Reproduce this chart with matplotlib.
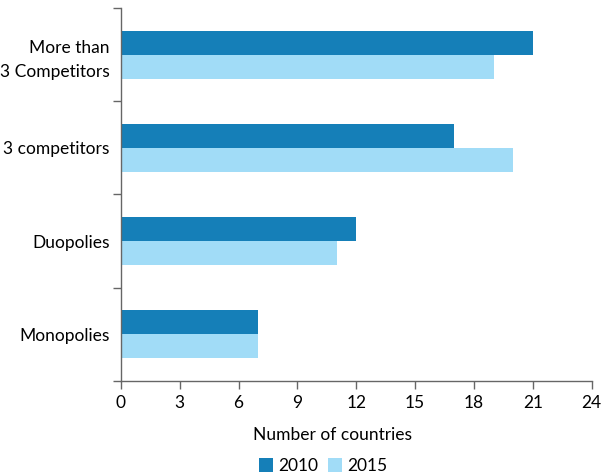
import matplotlib.pyplot as plt
import numpy as np

categories = ["More than\n3 Competitors", "3 competitors", "Duopolies", "Monopolies"]
values_2010 = [21, 17, 12, 7]
values_2015 = [19, 20, 11, 7]
x_ticks = [0, 3, 6, 9, 12, 15, 18, 21, 24]


def main():
    plt.rcParams['font.family'] = ['Lato', 'DejaVu Sans']
    fig = plt.figure(figsize=(6.1, 4.76), dpi=100)
    ax = fig.add_axes([0.198, 0.2, 0.772, 0.783])

    y = np.arange(len(categories))
    h = 0.258
    ax.barh(y - h / 2, values_2010, height=h, color='#157fb8', label='2010')
    ax.barh(y + h / 2, values_2015, height=h, color='#a1dcf7', label='2015')

    ax.set_xlim(0, 24)
    ax.set_ylim(len(categories) - 0.5, -0.5)
    ax.set_xticks(x_ticks)
    ax.set_xticklabels([str(t) for t in x_ticks])

    # ticks at category boundaries, labels at centres
    ax.set_yticks(np.arange(len(categories) + 1) - 0.5)
    ax.set_yticklabels([])
    ax.set_yticks(y, minor=True)
    ax.set_yticklabels(categories, minor=True, ha='right', linespacing=1.6)
    ax.tick_params(axis='y', which='minor', length=0, pad=8, labelsize=12.5)
    ax.tick_params(axis='y', which='major', length=6, color='#666666', width=1)
    ax.tick_params(axis='x', length=6, color='#666666', width=1, labelsize=12.5, pad=4)

    for s in ['top', 'right']:
        ax.spines[s].set_visible(False)
    for s in ['left', 'bottom']:
        ax.spines[s].set_color('#666666')
        ax.spines[s].set_linewidth(1)

    ax.set_xlabel("Number of countries", fontsize=12.5)
    ax.xaxis.set_label_coords(0.45, -0.125)
    ax.legend(loc='upper center', bbox_to_anchor=(0.43, -0.165), ncol=2, frameon=False,
              fontsize=12.5, handlelength=0.8, handleheight=0.8, handletextpad=0.3,
              columnspacing=0.6)

    plt.savefig('out.png', dpi=100)


if __name__ == '__main__':
    main()
